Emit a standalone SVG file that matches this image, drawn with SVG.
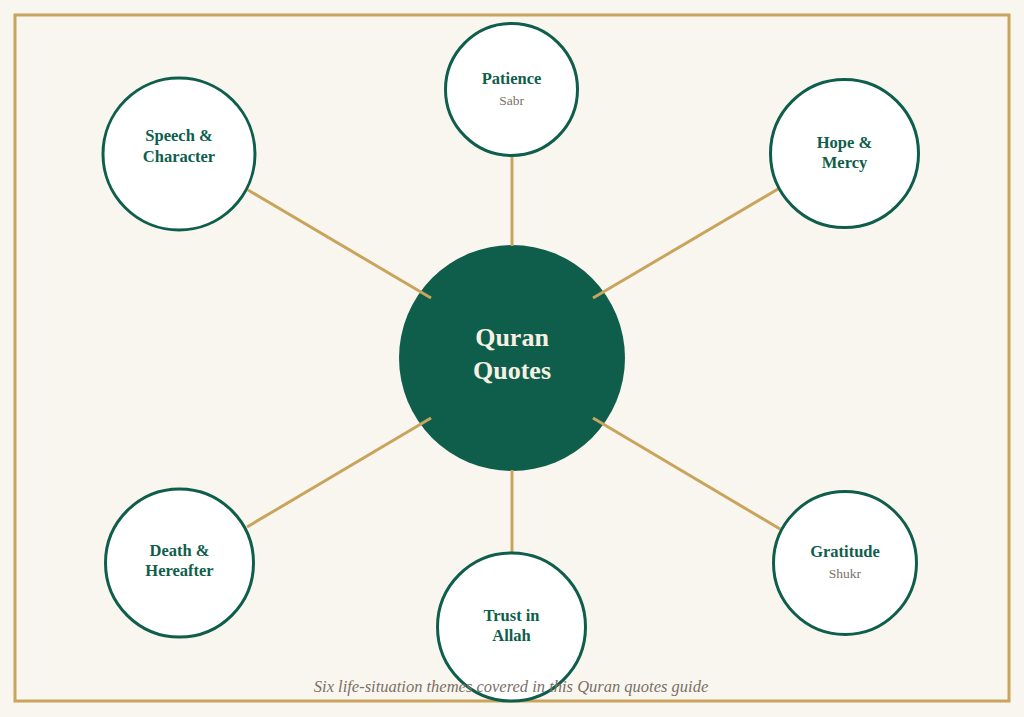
<svg xmlns="http://www.w3.org/2000/svg" width="1024" height="717" viewBox="0 0 1024 717">
<style>
.bg{fill:#F9F6EF}
.frame{fill:none;stroke:#C9A45C;stroke-width:3}
.edge{stroke:#C9A45C;stroke-width:3;fill:none}
.node{fill:#FFFFFF;stroke:#0F5E4C;stroke-width:3}
.hub{fill:#0F5E4C}
.t{font-family:"Liberation Serif","Times New Roman",serif;font-weight:bold;font-size:16.5px;fill:#0F5E4C;text-anchor:middle}
.s{font-family:"Liberation Serif","Times New Roman",serif;font-size:13.5px;fill:#7A7068;text-anchor:middle}
.h{font-family:"Liberation Serif","Times New Roman",serif;font-weight:bold;font-size:26px;fill:#F6F0E2;text-anchor:middle}
.cap{font-family:"Liberation Serif","Times New Roman",serif;font-style:italic;font-size:16.5px;fill:#7A7068;text-anchor:middle}
</style>
<rect class="bg" x="0" y="0" width="1024" height="717"/>
<rect class="frame" x="15" y="15" width="994" height="686"/>
<g id="hub">
<circle class="hub" cx="512" cy="358" r="113"/>
<text class="h" x="512" y="346">Quran</text>
<text class="h" x="512" y="379">Quotes</text>
</g>
<g id="connectors">
<line class="edge" x1="512" y1="157" x2="512" y2="246"/>
<line class="edge" x1="248" y1="190" x2="431" y2="298"/>
<line class="edge" x1="778" y1="189" x2="593" y2="298"/>
<line class="edge" x1="247" y1="527" x2="431" y2="418"/>
<line class="edge" x1="512" y1="470" x2="512" y2="553"/>
<line class="edge" x1="780" y1="529" x2="593" y2="418"/>
</g>
<g id="patience">
<circle class="node" cx="511.5" cy="89.5" r="66"/>
<text class="t" x="511.5" y="84">Patience</text>
<text class="s" x="511.5" y="105">Sabr</text>
</g>
<g id="speech">
<circle class="node" cx="179" cy="154" r="76"/>
<text class="t" x="179" y="141">Speech &amp;</text>
<text class="t" x="179" y="162">Character</text>
</g>
<g id="hope">
<circle class="node" cx="844.5" cy="153.5" r="74"/>
<text class="t" x="844.5" y="148">Hope &amp;</text>
<text class="t" x="844.5" y="168">Mercy</text>
</g>
<g id="death">
<circle class="node" cx="179.5" cy="563" r="74"/>
<text class="t" x="179.5" y="556">Death &amp;</text>
<text class="t" x="179.5" y="576">Hereafter</text>
</g>
<g id="trust">
<circle class="node" cx="511.5" cy="627" r="74"/>
<text class="t" x="511.5" y="621">Trust in</text>
<text class="t" x="511.5" y="641">Allah</text>
</g>
<g id="gratitude">
<circle class="node" cx="845" cy="563" r="71.5"/>
<text class="t" x="845" y="557">Gratitude</text>
<text class="s" x="845" y="578">Shukr</text>
</g>
<text class="cap" x="511" y="692">Six life-situation themes covered in this Quran quotes guide</text>
</svg>
